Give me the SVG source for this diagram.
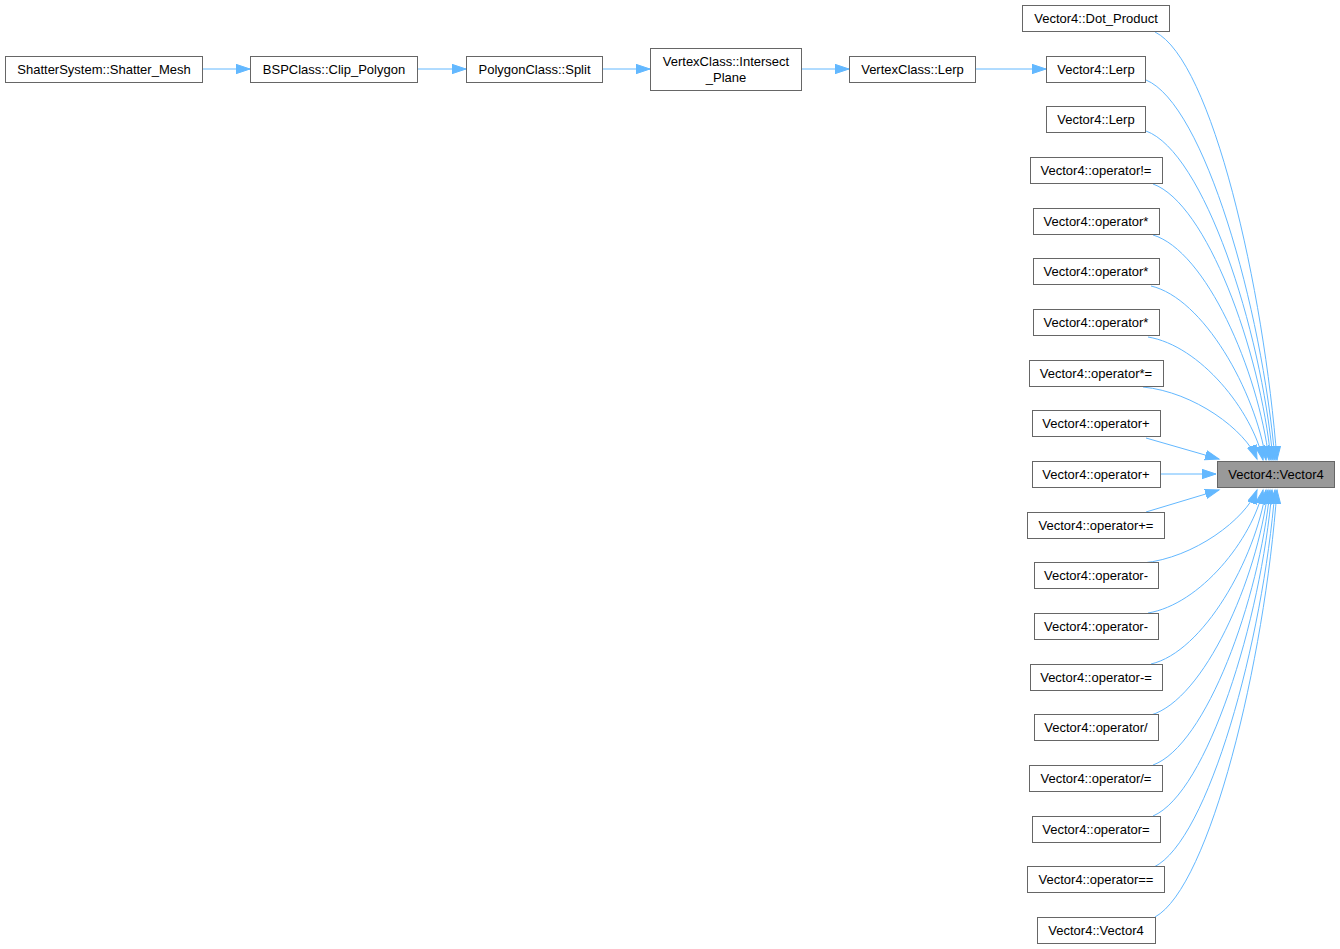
<svg xmlns="http://www.w3.org/2000/svg" width="1340" height="949" viewBox="0 0 1340 949">
<style>
.n rect{fill:#ffffff;stroke:#666666;stroke-width:1}
.n text{font-family:"Liberation Sans",Arial,sans-serif;font-size:13px;fill:#000000;text-anchor:middle}
.t rect{fill:#999999;stroke:#666666;stroke-width:1}
.e path{fill:none;stroke:#63b8ff;stroke-width:1;marker-end:url(#arr)}
</style>
<defs>
<marker id="arr" markerUnits="userSpaceOnUse" markerWidth="16" markerHeight="12" refX="14" refY="5" orient="auto" viewBox="0 0 16 12">
<path d="M0,0.3 L14,5 L0,9.7 z" fill="#63b8ff" stroke="#63b8ff" stroke-width="1"/>
</marker>
</defs>
<rect width="1340" height="949" fill="#ffffff"/>
<g id="edges" class="e">
<path d="M203,69 L250,69"/>
<path d="M418,69 L466,69"/>
<path d="M602,69 L650,69"/>
<path d="M801,69 L849,69"/>
<path d="M975,69 L1046,69"/>
<path d="M1155,32 C1212,60 1264,288.8 1277,460"/>
<path d="M1146,80 C1204,104 1262.1,308 1275,460"/>
<path d="M1146,131 C1203.6,152 1261.2,328.4 1273,460"/>
<path d="M1153,184 C1206.6,203.3 1260.1,349.6 1271,460"/>
<path d="M1153,235 C1205.7,250.8 1258.3,370 1269,460"/>
<path d="M1151,286 C1203.2,298.2 1255.4,390.4 1266,460"/>
<path d="M1148,337 C1200.2,345.6 1252.4,410.8 1263,460"/>
<path d="M1143,387 C1194.3,392 1245.6,430.2 1257,459"/>
<path d="M1146,438 L1219,459"/>
<path d="M1160,474 L1216,474"/>
<path d="M1146,512 L1219,490"/>
<path d="M1143,563 C1194.3,557.9 1245.6,519.2 1257,490"/>
<path d="M1148,613 C1200.2,604.4 1252.4,539.2 1263,490"/>
<path d="M1151,664 C1203.2,651.8 1255.4,559.6 1266,490"/>
<path d="M1151,715 C1204.1,699.3 1257.2,580 1268,490"/>
<path d="M1153,765 C1206.1,745.8 1259.2,600 1270,490"/>
<path d="M1153,816 C1207,793.2 1261,620.4 1272,490"/>
<path d="M1154,867 C1208.5,840.6 1262.9,640.8 1275,490"/>
<path d="M1155,917 C1209.9,887.1 1264.8,660.8 1277,490"/>
</g>
<g id="n_shatter" class="n"><rect x="5.5" y="56.5" width="197" height="26"/><text x="104" y="74">ShatterSystem::Shatter_Mesh</text></g>
<g id="n_clip" class="n"><rect x="250.5" y="56.5" width="167" height="26"/><text x="334" y="74">BSPClass::Clip_Polygon</text></g>
<g id="n_split" class="n"><rect x="466.5" y="56.5" width="136" height="26"/><text x="534.5" y="74">PolygonClass::Split</text></g>
<g id="n_intersect" class="n"><rect x="650.5" y="48.5" width="151" height="42"/><text x="726" y="66">VertexClass::Intersect</text><text x="726" y="82">_Plane</text></g>
<g id="n_vlerp" class="n"><rect x="849.5" y="56.5" width="126" height="26"/><text x="912.5" y="74">VertexClass::Lerp</text></g>
<g id="n_target" class="t n"><rect x="1217.5" y="461.5" width="117" height="26" style="fill:#999999"/><text x="1276" y="479">Vector4::Vector4</text></g>
<g id="n_dot" class="n"><rect x="1022.5" y="5.5" width="147" height="26"/><text x="1096" y="23">Vector4::Dot_Product</text></g>
<g id="n_lerp1" class="n"><rect x="1046.5" y="56.5" width="99" height="26"/><text x="1096" y="74">Vector4::Lerp</text></g>
<g id="n_lerp2" class="n"><rect x="1046.5" y="106.5" width="99" height="26"/><text x="1096" y="124">Vector4::Lerp</text></g>
<g id="n_neq" class="n"><rect x="1030.5" y="157.5" width="132" height="26"/><text x="1096" y="175">Vector4::operator!=</text></g>
<g id="n_mul1" class="n"><rect x="1033.5" y="208.5" width="126" height="26"/><text x="1096" y="226">Vector4::operator*</text></g>
<g id="n_mul2" class="n"><rect x="1033.5" y="258.5" width="126" height="26"/><text x="1096" y="276">Vector4::operator*</text></g>
<g id="n_mul3" class="n"><rect x="1033.5" y="309.5" width="126" height="26"/><text x="1096" y="327">Vector4::operator*</text></g>
<g id="n_mulEq" class="n"><rect x="1029.5" y="360.5" width="134" height="26"/><text x="1096" y="378">Vector4::operator*=</text></g>
<g id="n_add1" class="n"><rect x="1032.5" y="410.5" width="128" height="26"/><text x="1096" y="428">Vector4::operator+</text></g>
<g id="n_add2" class="n"><rect x="1032.5" y="461.5" width="128" height="26"/><text x="1096" y="479">Vector4::operator+</text></g>
<g id="n_addEq" class="n"><rect x="1027.5" y="512.5" width="137" height="26"/><text x="1096" y="530">Vector4::operator+=</text></g>
<g id="n_sub1" class="n"><rect x="1034.5" y="562.5" width="124" height="26"/><text x="1096" y="580">Vector4::operator-</text></g>
<g id="n_sub2" class="n"><rect x="1034.5" y="613.5" width="124" height="26"/><text x="1096" y="631">Vector4::operator-</text></g>
<g id="n_subEq" class="n"><rect x="1030.5" y="664.5" width="132" height="26"/><text x="1096" y="682">Vector4::operator-=</text></g>
<g id="n_div" class="n"><rect x="1034.5" y="714.5" width="124" height="26"/><text x="1096" y="732">Vector4::operator/</text></g>
<g id="n_divEq" class="n"><rect x="1029.5" y="765.5" width="133" height="26"/><text x="1096" y="783">Vector4::operator/=</text></g>
<g id="n_assign" class="n"><rect x="1032.5" y="816.5" width="128" height="26"/><text x="1096" y="834">Vector4::operator=</text></g>
<g id="n_eq" class="n"><rect x="1027.5" y="866.5" width="137" height="26"/><text x="1096" y="884">Vector4::operator==</text></g>
<g id="n_ctor" class="n"><rect x="1037.5" y="917.5" width="118" height="26"/><text x="1096" y="935">Vector4::Vector4</text></g>
</svg>
